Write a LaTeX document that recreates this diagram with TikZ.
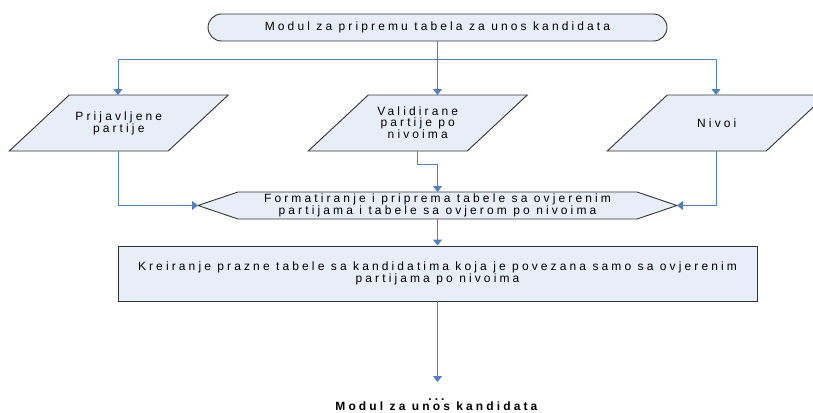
\documentclass[tikz,border=0pt]{standalone}
\usepackage{fontspec}
\setmainfont{Liberation Sans}[LetterSpace=26]
\usetikzlibrary{arrows.meta,calc}
\definecolor{boxfill}{RGB}{232,238,248}
\definecolor{connblue}{RGB}{79,129,189}
\definecolor{edgegray}{RGB}{50,50,50}
\tikzset{
  shapeline/.style={draw=edgegray,line width=0.9pt,fill=boxfill},
  txt/.style={inner sep=0pt,align=center,font=\fontsize{12}{10.8}\selectfont},
  conn/.style={draw=connblue,line width=0.9pt,-{Triangle[width=9pt,length=6pt]}},
  connplain/.style={draw=connblue,line width=0.9pt},
}
\begin{document}
\begin{tikzpicture}[x=1pt,y=-1pt]
\useasboundingbox (0,0) rectangle (813,412);
% top terminator
\node[shapeline,txt,minimum width=459pt,minimum height=27pt,rounded corners=13.5pt] (term) at (437.5,27.5) {Modul za pripremu tabela za unos kandidata};
% parallelogram centres
\coordinate (c1) at (118.75,123);
\coordinate (c2) at (417.75,123);
\coordinate (c3) at (716.75,123);
\foreach \n in {c1,c2,c3}{
  \path[shapeline] ($(\n)+(-49.5,-28)$) -- ($(\n)+(109.5,-28)$) -- ($(\n)+(49.5,28)$) -- ($(\n)+(-109.5,28)$) -- cycle;
}
\node[txt] (p1) at (c1) {Prijavljene\\partije};
\node[txt] (p2) at (c2) {Validirane\\partije po\\nivoima};
\node[txt] (p3) at (c3) {Nivoi};
\coordinate (p1t) at (118,95);
\coordinate (p2t) at (437.5,95);
\coordinate (p3t) at (716,95);
\coordinate (p1b) at (118,151);
\coordinate (p2b) at (417,151);
\coordinate (p3b) at (716,151);
% hexagon
\coordinate (hc) at (437.5,205.5);
\path[shapeline] (198,205.5) -- (238,192) -- (637,192) -- (677,205.5) -- (637,219) -- (238,219) -- cycle;
\node[txt] (hex) at (hc) {Formatiranje i priprema tabele sa ovjerenim\\partijama i tabele sa ovjerom po nivoima};
\coordinate (hw) at (198,205.5);
\coordinate (he) at (677,205.5);
\coordinate (hn) at (437.5,192);
\coordinate (hs) at (437.5,219);
% rectangle
\node[shapeline,txt,minimum width=639pt,minimum height=55pt] (rect) at (437.5,273.5) {Kreiranje prazne tabele sa kandidatima koja je povezana samo sa ovjerenim\\partijama po nivoima};
\coordinate (endarrow) at (437.5,382);
% bottom texts
\node[txt,anchor=base] (dots) at (438,400) {\textbf{...}};
\node[txt,anchor=base] (next) at (438,410.5) {\textbf{Modul za unos kandidata}};
% connectors
\draw[connplain] (term.south) -- (437.5,59);
\draw[conn] (437.5,59) -| (p1t);
\draw[conn] (437.5,59) -| (p3t);
\draw[conn] (term.south) -- (p2t);
\draw[conn] (p1b) |- (hw);
\draw[conn] (p3b) |- (he);
\draw[conn] (p2b) -- (417,164) -| (hn);
\draw[conn] (hs) -- (rect.north);
\draw[conn] (rect.south) -- (endarrow);
\end{tikzpicture}
\end{document}
